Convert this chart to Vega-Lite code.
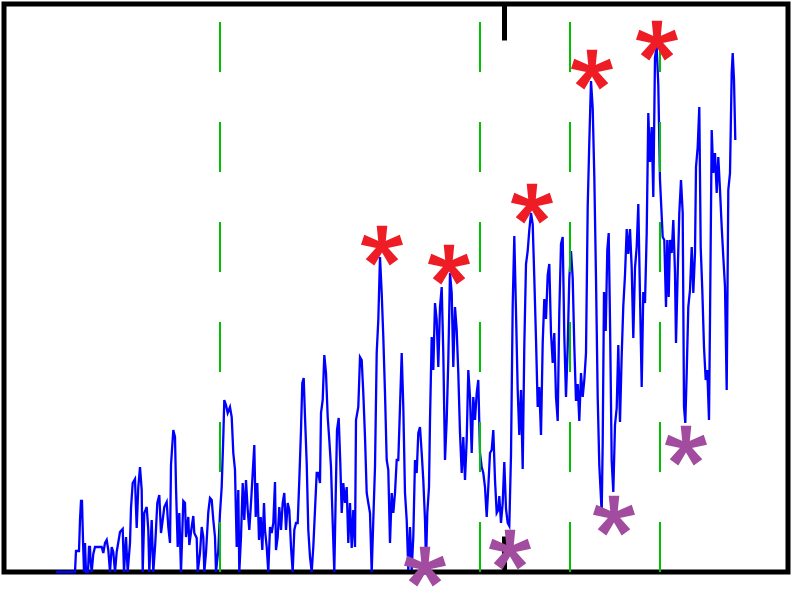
{
  "$schema": "https://vega.github.io/schema/vega-lite/v6.json",
  "width": 784,
  "height": 568,
  "autosize": {"type": "none"},
  "padding": {"left": 4, "top": 4, "right": 13, "bottom": 21},
  "background": "white",
  "config": {"view": {"stroke": "black", "strokeWidth": 5}},
  "datasets": {
    "signal": [
      {"t":52,"v":0},{"t":71,"v":0},{"t":72,"v":21},{"t":75,"v":21},{"t":76,"v":52},{"t":77,"v":71},{"t":78,"v":71},{"t":79,"v":32},{"t":80,"v":0},{"t":81,"v":29},{"t":82,"v":0},{"t":84,"v":0},{"t":85,"v":25},{"t":86,"v":25},{"t":86.5,"v":12},{"t":87.7,"v":0},{"t":89.3,"v":18},{"t":91,"v":25},{"t":97.7,"v":25},{"t":99.3,"v":19},{"t":101,"v":29},{"t":102.7,"v":32},{"t":104.3,"v":22},{"t":106,"v":0},{"t":107.7,"v":25},{"t":109.3,"v":20},{"t":111,"v":0},{"t":112.7,"v":20},{"t":116,"v":40},{"t":118.7,"v":43},{"t":120,"v":0},{"t":122,"v":35},{"t":123.7,"v":0},{"t":126,"v":29},{"t":127,"v":64},{"t":128.7,"v":89},{"t":131,"v":93},{"t":132.7,"v":44},{"t":134.3,"v":85},{"t":136,"v":105},{"t":137.7,"v":82},{"t":138.7,"v":0},{"t":140.3,"v":59},{"t":142.7,"v":65},{"t":144.3,"v":42},{"t":145.3,"v":0},{"t":147.7,"v":52},{"t":149.3,"v":0},{"t":151.3,"v":29},{"t":153.3,"v":69},{"t":155.3,"v":77},{"t":157,"v":39},{"t":158.7,"v":52},{"t":160.3,"v":65},{"t":162.7,"v":70},{"t":164.3,"v":45},{"t":166,"v":29},{"t":167,"v":107},{"t":169.3,"v":142},{"t":171,"v":135},{"t":172,"v":85},{"t":173.7,"v":25},{"t":175.3,"v":59},{"t":177,"v":0},{"t":179.3,"v":71},{"t":181,"v":69},{"t":182,"v":35},{"t":184.3,"v":55},{"t":185.3,"v":27},{"t":187.7,"v":45},{"t":189.3,"v":56},{"t":190.3,"v":39},{"t":192.7,"v":34},{"t":193.7,"v":0},{"t":196,"v":19},{"t":197.7,"v":45},{"t":199.3,"v":35},{"t":200.3,"v":0},{"t":202,"v":19},{"t":204.3,"v":60},{"t":206,"v":74},{"t":207.7,"v":72},{"t":209.3,"v":52},{"t":211,"v":35},{"t":212,"v":0},{"t":214.3,"v":22},{"t":216,"v":59},{"t":217.7,"v":85},{"t":219.3,"v":135},{"t":220.3,"v":172},{"t":222,"v":167},{"t":223.7,"v":159},
      {"t":226,"v":165},{"t":227.7,"v":155},{"t":229.3,"v":119},{"t":231,"v":102},{"t":232.7,"v":25},{"t":234.3,"v":82},{"t":235.3,"v":0},{"t":237,"v":35},{"t":238.7,"v":89},{"t":240.3,"v":52},{"t":242,"v":92},{"t":243.7,"v":62},{"t":245.3,"v":42},{"t":247,"v":69},{"t":248.7,"v":99},{"t":250.3,"v":127},{"t":251.7,"v":55},{"t":253.3,"v":89},{"t":255,"v":32},{"t":256.7,"v":55},{"t":258.3,"v":22},{"t":260,"v":69},{"t":261,"v":42},{"t":262.7,"v":25},{"t":264.3,"v":0},{"t":266,"v":45},{"t":267.7,"v":39},{"t":269.3,"v":49},{"t":271,"v":90},{"t":272,"v":22},{"t":273.7,"v":35},{"t":275.3,"v":65},{"t":277,"v":42},{"t":278.7,"v":69},{"t":280.3,"v":79},{"t":282,"v":42},{"t":283.7,"v":69},{"t":285.3,"v":62},{"t":287,"v":25},{"t":288.7,"v":0},{"t":290.3,"v":42},{"t":292,"v":49},{"t":293.7,"v":49},{"t":295.3,"v":92},{"t":297,"v":142},{"t":298.3,"v":189},{"t":299.7,"v":194},{"t":301,"v":155},{"t":302.7,"v":109},{"t":304.3,"v":42},{"t":306,"v":15},{"t":307.7,"v":0},{"t":309.3,"v":25},{"t":311,"v":62},{"t":312.7,"v":99},{"t":314.3,"v":99},{"t":316,"v":89},{"t":317,"v":159},{"t":318.7,"v":172},{"t":320.3,"v":217},{"t":322,"v":199},{"t":323.7,"v":155},{"t":325.3,"v":132},{"t":327,"v":105},{"t":328.7,"v":49},{"t":330.3,"v":0},{"t":331.7,"v":75},{"t":333,"v":142},{"t":334.7,"v":154},{"t":336.3,"v":109},{"t":337.7,"v":59},{"t":339.3,"v":89},{"t":341,"v":69},{"t":342.7,"v":85},{"t":344.3,"v":29},{"t":346,"v":69},
      {"t":347.7,"v":24},{"t":349.3,"v":62},{"t":351,"v":25},{"t":352,"v":152},{"t":354.3,"v":165},{"t":356,"v":215},{"t":357.7,"v":212},{"t":359.3,"v":179},{"t":361,"v":135},{"t":362.7,"v":79},{"t":364.3,"v":69},{"t":366,"v":59},{"t":367.7,"v":0},{"t":369.3,"v":52},{"t":371,"v":105},{"t":372.7,"v":219},{"t":374.3,"v":252},{"t":376,"v":315},{"t":377.7,"v":279},{"t":379.3,"v":235},{"t":381,"v":179},{"t":382.7,"v":112},{"t":384.3,"v":102},{"t":386,"v":29},{"t":387.7,"v":79},{"t":389.3,"v":59},{"t":391,"v":79},{"t":392.7,"v":112},{"t":394.3,"v":112},{"t":396,"v":165},{"t":397.7,"v":219},{"t":399.3,"v":165},{"t":401,"v":79},{"t":402.7,"v":52},{"t":404.3,"v":2},{"t":406,"v":45},{"t":407.7,"v":2},{"t":409.3,"v":35},{"t":411,"v":112},{"t":412.7,"v":99},{"t":414.3,"v":139},{"t":416,"v":145},{"t":417.7,"v":119},{"t":419.3,"v":92},{"t":421,"v":52},{"t":422,"v":9},{"t":423.3,"v":59},{"t":425,"v":85},{"t":426,"v":152},{"t":427.7,"v":235},{"t":429.3,"v":202},{"t":431,"v":269},{"t":432.7,"v":252},{"t":434.3,"v":205},{"t":436,"v":265},{"t":437.7,"v":285},{"t":439.3,"v":219},{"t":441,"v":112},{"t":442.7,"v":152},{"t":444.3,"v":212},{"t":446,"v":299},{"t":447.7,"v":279},{"t":449.3,"v":205},{"t":451,"v":265},{"t":452.7,"v":242},{"t":454.3,"v":199},{"t":456,"v":139},{"t":457.7,"v":99},{"t":459.3,"v":135},{"t":461,"v":92},{"t":462.7,"v":132},{"t":464.3,"v":202},{"t":466,"v":175},{"t":467.7,"v":119},{"t":469.3,"v":175},{"t":471,"v":152},{"t":472.7,"v":179},{"t":474.3,"v":192},{"t":476,"v":119},{"t":477.7,"v":105},{"t":479.3,"v":99},{"t":481,"v":85},{"t":482.7,"v":55},{"t":484.3,"v":85},{"t":486,"v":119},{"t":487.7,"v":122},{"t":489.3,"v":142},{"t":491,"v":92},{"t":492.7,"v":59},{"t":494.3,"v":62},
      {"t":495.3,"v":76},{"t":497,"v":49},{"t":498.7,"v":69},{"t":500.3,"v":110},{"t":502,"v":63},{"t":503.7,"v":49},{"t":505.3,"v":46},{"t":507,"v":117},{"t":508.7,"v":267},{"t":510.3,"v":336},{"t":512,"v":260},{"t":513.7,"v":182},{"t":515.3,"v":137},{"t":517,"v":182},{"t":518.7,"v":103},{"t":520.3,"v":226},{"t":522,"v":308},{"t":523.7,"v":321},{"t":525.3,"v":342},{"t":527,"v":359},{"t":528.7,"v":348},{"t":530.3,"v":294},{"t":532,"v":233},{"t":533.7,"v":165},{"t":535.3,"v":185},{"t":537,"v":137},{"t":538.7,"v":229},{"t":540.3,"v":273},{"t":542,"v":253},{"t":543.7,"v":297},{"t":545.3,"v":308},{"t":547,"v":239},{"t":548.7,"v":209},{"t":550.3,"v":239},{"t":552,"v":175},{"t":553.7,"v":151},{"t":555.3,"v":260},{"t":557,"v":328},{"t":558.7,"v":335},{"t":560.3,"v":236},{"t":562,"v":175},{"t":563.7,"v":226},{"t":565.3,"v":294},{"t":567,"v":321},{"t":568.7,"v":294},{"t":570.3,"v":226},{"t":572,"v":171},{"t":573.7,"v":188},{"t":575.3,"v":151},{"t":577,"v":199},{"t":578.7,"v":175},{"t":580.3,"v":192},{"t":582,"v":219},{"t":583.7,"v":365},{"t":585.3,"v":430},{"t":587,"v":491},{"t":588.7,"v":464},{"t":590.3,"v":396},{"t":592,"v":294},{"t":593.7,"v":175},{"t":595.3,"v":107},
      {"t":597.7,"v":59},{"t":598.7,"v":129},{"t":600,"v":280},{"t":601.7,"v":241},{"t":603.3,"v":322},{"t":604.7,"v":339},{"t":606,"v":252},{"t":607.7,"v":111},{"t":609.3,"v":80},{"t":611,"v":147},{"t":612.7,"v":164},{"t":614.3,"v":227},{"t":616,"v":150},{"t":617.7,"v":217},{"t":619.3,"v":266},{"t":621,"v":297},{"t":622.7,"v":343},{"t":624.3,"v":318},{"t":626,"v":343},{"t":627.7,"v":304},{"t":629.3,"v":234},{"t":631,"v":304},{"t":632.7,"v":325},{"t":634.3,"v":368},{"t":636,"v":276},{"t":637.7,"v":185},{"t":639.3,"v":280},{"t":641,"v":269},{"t":642.7,"v":339},{"t":644.3,"v":459},{"t":646,"v":410},{"t":647.7,"v":445},{"t":649.3,"v":375},{"t":651,"v":515},{"t":652.7,"v":525},{"t":654.3,"v":487},
      {"t":656,"v":392},{"t":658.7,"v":335},{"t":660.3,"v":332},{"t":662,"v":265},{"t":663.3,"v":332},{"t":664.7,"v":275},{"t":666,"v":332},{"t":667.7,"v":319},{"t":669.3,"v":352},{"t":671,"v":299},{"t":672,"v":229},{"t":673.7,"v":299},{"t":675.3,"v":359},{"t":677,"v":392},{"t":678.7,"v":359},{"t":680,"v":165},{"t":681.3,"v":149},{"t":682.7,"v":199},{"t":684.3,"v":265},{"t":686,"v":282},{"t":687.7,"v":325},{"t":689.3,"v":279},{"t":691,"v":319},{"t":692,"v":405},{"t":693.7,"v":425},{"t":695.3,"v":465},{"t":696.7,"v":325},{"t":698.3,"v":282},{"t":700,"v":225},{"t":701.7,"v":192},{"t":703.3,"v":202},{"t":705,"v":152},{"t":706,"v":252},{"t":707.7,"v":442},{"t":709.3,"v":399},{"t":711,"v":419},{"t":712.7,"v":379},{"t":714.3,"v":415},{"t":716,"v":382},{"t":717.7,"v":345},{"t":719.3,"v":315},{"t":721,"v":285},{"t":722.7,"v":182},{"t":724.3,"v":382},{"t":726,"v":399},{"t":727.7,"v":499},{"t":728.7,"v":519},{"t":730,"v":492},{"t":731.3,"v":432}
    ],
    "markers": [
      {"t":378,"v":326,"kind":"peak"},
      {"t":445,"v":307,"kind":"peak"},
      {"t":528,"v":368,"kind":"peak"},
      {"t":588,"v":502,"kind":"peak"},
      {"t":653,"v":531,"kind":"peak"},
      {"t":421,"v":5,"kind":"trough"},
      {"t":506,"v":22,"kind":"trough"},
      {"t":610,"v":56,"kind":"trough"},
      {"t":682,"v":126,"kind":"trough"}
    ],
    "boundaries": [{"t":216},{"t":476},{"t":566},{"t":656}]
  },
  "layer": [
    {
      "data": {"name": "signal"},
      "mark": {"type": "line", "color": "#0000ff", "strokeWidth": 2.3, "interpolate": "linear"},
      "encoding": {
        "x": {"field": "t", "type": "quantitative", "scale": {"domain": [0, 784], "nice": false, "zero": false},
              "axis": {"orient": "bottom", "values": [500], "tickSize": -36, "tickWidth": 5, "tickColor": "black", "labels": false, "domain": false, "grid": false, "title": null}},
        "y": {"field": "v", "type": "quantitative", "scale": {"domain": [0, 568], "nice": false}, "axis": null}
      }
    },
    {
      "data": {"name": "boundaries"},
      "mark": {"type": "rule", "color": "#00c000", "strokeWidth": 2, "strokeDash": [50, 50]},
      "encoding": {
        "x": {"field": "t", "type": "quantitative",
              "axis": {"orient": "top", "values": [500], "tickSize": -36, "tickWidth": 5, "tickColor": "black", "labels": false, "domain": false, "grid": false, "title": null}},
        "y": {"datum": 0, "type": "quantitative"},
        "y2": {"datum": 568}
      }
    },
    {
      "data": {"name": "markers"},
      "mark": {"type": "point", "filled": true, "opacity": 1, "strokeWidth": 0,
               "shape": "M0.16,0L0.26,-1L-0.26,-1L-0.16,0Z M0.049,0.152L1.031,-0.062L0.871,-0.556L-0.049,-0.152Z M-0.129,0.094L0.378,0.962L0.798,0.656L0.129,-0.094Z M-0.129,-0.094L-0.798,0.656L-0.378,0.962L0.129,0.094Z M0.049,-0.152L-0.871,-0.556L-1.031,-0.062L-0.049,0.152Z",
               "size": 1660},
      "encoding": {
        "x": {"field": "t", "type": "quantitative", "axis": null},
        "y": {"field": "v", "type": "quantitative"},
        "color": {"field": "kind", "type": "nominal", "scale": {"domain": ["peak", "trough"], "range": ["#ee1c25", "#a24ca0"]}, "legend": null}
      }
    }
  ],
  "resolve": {"axis": {"x": "independent"}}
}
